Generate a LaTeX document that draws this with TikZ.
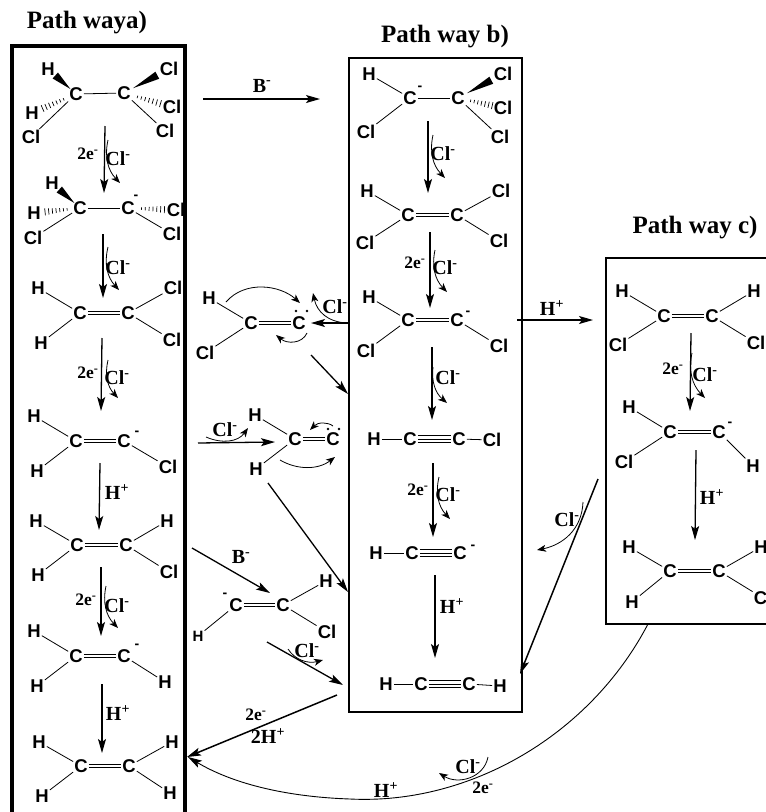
\documentclass[tikz,border=0pt]{standalone}
\usepackage{fontspec}
\setmainfont{Liberation Serif}
\newfontfamily\atomfont{Liberation Sans}
\usetikzlibrary{arrows.meta,calc}
\newcommand{\clm}{Cl\textsuperscript{-}}
\newcommand{\twoe}{2e\textsuperscript{-}}
\newcommand{\hplus}{H\textsuperscript{+}}
\newcommand{\bmin}{B\textsuperscript{-}}
\newcommand{\wedgebond}[2]{\fill ($(#1)!.2!(#2)$) -- ($(#1)!.74!(#2)!4pt!90:(#2)$) -- ($(#1)!.74!(#2)!4pt!-90:(#2)$) -- cycle;}
\newcommand{\hashbond}[2]{\foreach \t in {.28,.36,...,.8}{\pgfmathsetmacro\w{\t*4.6}\draw[hashline] ($(#1)!\t!(#2)!\w pt!90:(#2)$) -- ($(#1)!\t!(#2)!\w pt!-90:(#2)$);}}
\tikzset{
  atom/.style={inner sep=1pt,font=\atomfont\bfseries\fontsize{18.5}{18.5}\selectfont},
  smallatom/.style={inner sep=1pt,font=\atomfont\bfseries\fontsize{15}{15}\selectfont},
  chg/.style={inner sep=0pt,font=\atomfont\bfseries\fontsize{14}{14}\selectfont},
  pathtitle/.style={inner sep=0pt,font=\bfseries\fontsize{25}{25}\selectfont},
  rlabel/.style={inner sep=0pt,font=\bfseries\fontsize{20}{20}\selectfont},
  elabel/.style={inner sep=0pt,font=\bfseries\fontsize{17.5}{17.5}\selectfont},
  lonepair/.style={circle,fill,inner sep=0pt,minimum size=2.8pt},
  bond/.style={line width=.8pt},
  dbl/.style={line width=.8pt,double,double distance=2.4pt},
  hashline/.style={line width=.7pt},
  rxn/.style={line width=1.3pt,-{Stealth[length=14pt,width=8pt,inset=3pt]}},
  loss/.style={line width=.8pt,-{Stealth[length=9pt,width=7pt,inset=2.5pt]}},
}
\begin{document}
\begin{tikzpicture}[x=1pt,y=-1pt]
\useasboundingbox (0,0) rectangle (766,812);
\draw[line width=3.6pt] (12,812) -- (12,46) -- (185,46) -- (185,812);
\draw[line width=1.1pt] (349,58) rectangle (522,712);
\draw[line width=1.1pt] (780,624) -- (606,624) -- (606,258) -- (780,258);
\node[pathtitle] (titlea) at (87,23) {Path waya)};
\node[pathtitle] (titleb) at (445,37) {Path way b)};
\node[pathtitle] (titlec) at (695,228) {Path way c)};

\foreach \n/\p/\t in {
  a1c/{76,94}/C,a1d/{124,93}/C,a1p/{48,69}/H,a1q/{32,113}/H,a1r/{31,137}/Cl,a1s/{169,69}/Cl,a1t/{172,107}/Cl,a1u/{165,131}/Cl,
  a2c/{80,208}/C,a2d/{128,208}/C,a2p/{52,183}/H,a2q/{34,213}/H,a2r/{33,238}/Cl,a2t/{176,210}/Cl,a2u/{172,234}/Cl,
  a3c/{80,313}/C,a3d/{128,313}/C,a3p/{38,288}/H,a3q/{41,343}/H,a3s/{173,288}/Cl,a3u/{172,340}/Cl,
  a4c/{76,441}/C,a4d/{124,441}/C,a4p/{34,416}/H,a4q/{37,471}/H,a4u/{168,467}/Cl,
  a5c/{77,545}/C,a5d/{126,545}/C,a5p/{36,521}/H,a5q/{38,575}/H,a5s/{167,521}/H,a5u/{169,572}/Cl,
  a6c/{76,656}/C,a6d/{124,656}/C,a6p/{34,631}/H,a6q/{37,686}/H,a6u/{165,682}/H,
  a7c/{81,766}/C,a7d/{129,766}/C,a7p/{39,742}/H,a7q/{42,796}/H,a7s/{172,742}/H,a7u/{170,793}/H,
  b1c/{410,98}/C,b1d/{458,98}/C,b1p/{369,74}/H,b1q/{366,132}/Cl,b1s/{503,74}/Cl,b1t/{503,108}/Cl,b1u/{500,137}/Cl,
  b2c/{408,215}/C,b2d/{457,215}/C,b2p/{367,191}/H,b2q/{365,243}/Cl,b2s/{501,191}/Cl,b2u/{499,241}/Cl,
  b3c/{408,320}/C,b3d/{457,320}/C,b3p/{369,297}/H,b3q/{366,351}/Cl,b3u/{499,346}/Cl,
  b4c/{410,439}/C,b4d/{459,439}/C,b4p/{374,439}/H,b4u/{492,440}/Cl,
  b5c/{412,553}/C,b5d/{460,553}/C,b5p/{376,553}/H,
  b6c/{421,684}/C,b6d/{469,684}/C,b6p/{386,684}/H,b6u/{500,686}/H,
  c1c/{664,316}/C,c1d/{712,316}/C,c1p/{622,291}/H,c1q/{618,345}/Cl,c1s/{754,291}/H,c1u/{756,343}/Cl,
  c2c/{670,432}/C,c2d/{719,432}/C,c2p/{629,407}/H,c2q/{624,462}/Cl,c2u/{753,466}/H,
  c3c/{670,571}/C,c3d/{719,571}/C,c3p/{629,547}/H,c3q/{632,602}/H,c3s/{761,547}/H,c3u/{763,598}/Cl,
  m1c/{251,323}/C,m1d/{299,323}/C,m1p/{209,298}/H,m1q/{205,353}/Cl,
  m2c/{295,439}/C,m2d/{333,439}/C,m2p/{255,415}/H,m2q/{256,469}/H,
  m3c/{236,605}/C,m3d/{283,605}/C,m3s/{326,581}/H,m3u/{327,632}/Cl
}{\node[atom] (\n) at (\p) {\t};}
\node[smallatom] (m3q) at (198,636) {H};

\foreach \n/\p in {a2m/{136,197},a4m/{137,433},a6m/{137,646},b1m/{420,88},b3m/{468,313},b5m/{473,547},c2m/{730,424},m3m/{225,595}}
  \node[chg] (\n) at (\p) {-};
\foreach \n/\p in {m1x/{296,311},m1y/{307,311},m2x/{328,429},m2y/{339,429}}
  \node[lonepair] (\n) at (\p) {};

\foreach \a/\b in {a1c/a1d,a2c/a2d,b1c/b1d,
  a1c/a1r,a1d/a1u,a2c/a2r,a2d/a2u,a3c/a3p,a3c/a3q,a3d/a3s,a3d/a3u,a4c/a4p,a4c/a4q,a4d/a4u,
  a5c/a5p,a5c/a5q,a5d/a5s,a5d/a5u,a6c/a6p,a6c/a6q,a6d/a6u,a7c/a7p,a7c/a7q,a7d/a7s,a7d/a7u,
  b1c/b1p,b1c/b1q,b1d/b1u,b2c/b2p,b2c/b2q,b2d/b2s,b2d/b2u,b3c/b3p,b3c/b3q,b3d/b3u,
  b4p/b4c,b4d/b4u,b5p/b5c,b6p/b6c,b6d/b6u,
  c1c/c1p,c1c/c1q,c1d/c1s,c1d/c1u,c2c/c2p,c2c/c2q,c2d/c2u,c3c/c3p,c3c/c3q,c3d/c3s,c3d/c3u,
  m1c/m1p,m1c/m1q,m2c/m2p,m2c/m2q,m3c/m3q,m3d/m3s,m3d/m3u}
  \draw[bond] (\a) -- (\b);
\foreach \a/\b in {a3c/a3d,a4c/a4d,a5c/a5d,a6c/a6d,a7c/a7d,b2c/b2d,b3c/b3d,c1c/c1d,c2c/c2d,c3c/c3d,m1c/m1d,m2c/m2d,m3c/m3d}
  \draw[dbl] (\a) -- (\b);
\foreach \a/\b in {b4c/b4d,b5c/b5d,b6c/b6d}{
  \draw[bond] (\a) -- (\b);
  \draw[bond,transform canvas={yshift=3.6pt}] (\a) -- (\b);
  \draw[bond,transform canvas={yshift=-3.6pt}] (\a) -- (\b);
}
\wedgebond{a1c}{a1p}
\wedgebond{a1d}{a1s}
\wedgebond{a2c}{a2p}
\wedgebond{b1d}{b1s}
\hashbond{a1c}{a1q}
\hashbond{a1d}{a1t}
\hashbond{a2c}{a2q}
\hashbond{a2d}{a2t}
\hashbond{b1d}{b1t}

\foreach \n/\s/\e in {
  ra1/{105,126}/{104,193},ra2/{103,234}/{103,298},ra3/{102,338}/{101,411},ra4/{100,463}/{99,530},ra5/{101,567}/{101,636},ra6/{102,684}/{102,753},
  rb1/{428,121}/{428,193},rb2/{430,232}/{430,308},rb3/{432,347}/{432,420},rb4/{433,463}/{433,537},rb5/{435,575}/{435,658},
  rc1/{691,333}/{690,411},rc2/{696,450}/{695,540},
  xab/{203,99}/{320,99},xbc/{517,320}/{593,320},xbm/{348,323}/{311,323},xmb/{311,355}/{348,394},
  xam/{198,443}/{275,442},xmc/{268,483}/{348,592},xad/{192,548}/{270,593},xde/{267,642}/{343,685}}{
  \coordinate (\n s) at (\s);
  \coordinate (\n e) at (\e);
  \draw[rxn] (\n s) -- (\n e);
}
\coordinate (xeas) at (337,695);
\coordinate (xeae) at (187,757);
\draw[rxn,line width=1.5pt] (xeas) -- (xeae);
\coordinate (xcbs) at (598,479);
\coordinate (xcbe) at (520,674);
\draw[rxn,line width=1.5pt] (xcbs) -- (xcbe);
\coordinate (ringc) at (648,624);
\coordinate (ringm) at (350,799);
\coordinate (ringa) at (188,757);
\draw[rxn,line width=.9pt] (ringc) .. controls (590,735) and (470,805) .. (ringm) .. controls (290,797) and (235,785) .. (ringa);

\foreach \n/\s/\e in {
  la1/{108,140}/{120,183},la2/{108,247}/{119,290},la3/{108,360}/{118,398},la5/{106,586}/{118,628},
  lb1/{433,135}/{445,178},lb2/{435,250}/{447,292},lb3/{433,367}/{447,403},lb4/{439,477}/{450,519},
  lc1/{692,353}/{705,398}}{
  \coordinate (\n s) at (\s);
  \coordinate (\n e) at (\e);
  \draw[loss] (\n s) to[bend right=28] (\n e);
}
\coordinate (lm1a) at (226,302);
\coordinate (lm1b) at (300,303);
\draw[loss] (lm1a) .. controls (245,280) and (280,285) .. (lm1b);
\coordinate (lm1c) at (307,333);
\coordinate (lm1d) at (276,335);
\draw[loss] (lm1c) .. controls (302,344) and (287,344) .. (lm1d);
\coordinate (lm1e) at (347,323);
\coordinate (lm1f) at (313,293);
\draw[loss] (lm1e) .. controls (328,322) and (317,312) .. (lm1f);
\coordinate (lm2a) at (206,437);
\coordinate (lm2b) at (248,428);
\draw[loss] (lm2a) .. controls (222,444) and (238,442) .. (lm2b);
\coordinate (lm2c) at (333,426);
\coordinate (lm2d) at (310,430);
\draw[loss] (lm2c) .. controls (328,422) and (318,422) .. (lm2d);
\coordinate (lm2e) at (280,460);
\coordinate (lm2f) at (335,457);
\draw[loss] (lm2e) .. controls (297,470) and (318,470) .. (lm2f);
\coordinate (lm3a) at (288,649);
\coordinate (lm3b) at (323,660);
\draw[loss] (lm3a) .. controls (295,660) and (308,664) .. (lm3b);
\coordinate (lcba) at (583,502);
\coordinate (lcbb) at (537,550);
\draw[loss] (lcba) .. controls (582,530) and (562,545) .. (lcbb);
\coordinate (lrga) at (488,757);
\coordinate (lrgb) at (439,773);
\draw[loss] (lrga) .. controls (484,778) and (458,785) .. (lrgb);

\foreach \n/\p/\t in {
  ta1/{118,159}/\clm,ta2/{118,268}/\clm,ta3/{117,378}/\clm,ta4/{117,492}/\hplus,ta5/{117,606}/\clm,ta6/{118,713}/\hplus,
  tb1/{443,154}/\clm,tb2/{445,268}/\clm,tb3/{448,378}/\clm,tb4/{448,495}/\clm,tb5/{452,606}/\hplus,
  tc1/{705,375}/\clm,tc2/{712,497}/\hplus,
  tab/{262,86}/\bmin,tbc/{552,308}/\hplus,tm1/{335,307}/\clm,tm2/{225,430}/\clm,tm3/{241,557}/\bmin,tm4/{307,651}/\clm,
  tcb/{567,520}/\clm,trg/{468,767}/\clm,trh/{386,790}/\hplus,tea/{268,736}/2\hplus}
  {\node[rlabel] (\n) at (\p) {\t};}
\foreach \n/\p in {ea1/{88,154},ea3/{88,373},ea5/{86,600},eb2/{415,263},eb4/{418,490},ec1/{673,369},erg/{483,788},eea/{256,715}}
  \node[elabel] (\n) at (\p) {\twoe};
\end{tikzpicture}
\end{document}
